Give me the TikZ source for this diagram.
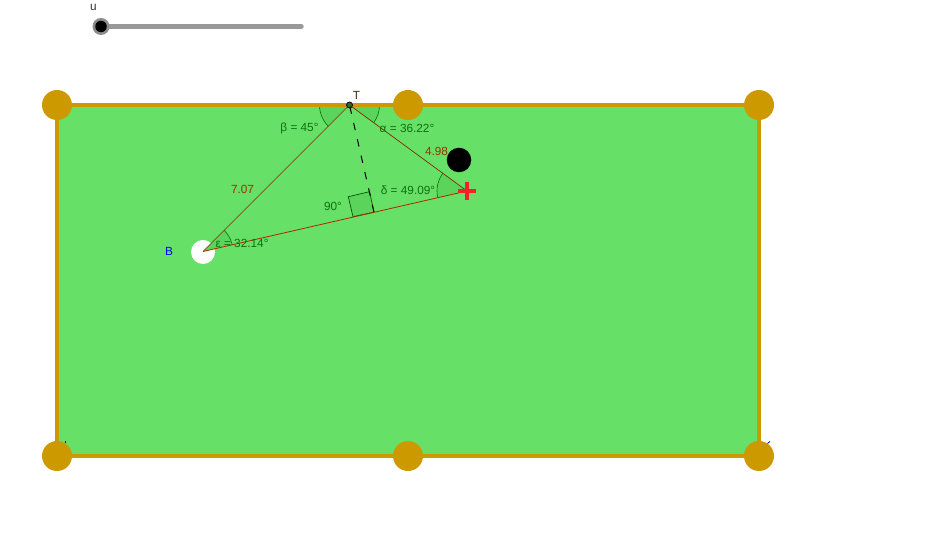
\documentclass[tikz,border=0pt]{standalone}
\usepackage{fontspec}
\setmainfont{Liberation Sans}
\usetikzlibrary{angles,calc}
\definecolor{gold}{HTML}{CC9900}
\definecolor{field}{HTML}{66E066}
\definecolor{wedge}{HTML}{5BD45B}
\definecolor{angtxt}{HTML}{0F700F}
\definecolor{seg}{HTML}{993300}
\definecolor{plusred}{HTML}{F8202A}
\tikzset{
  x=1pt,y=1pt,
  handle/.style={circle,fill=gold,minimum size=30pt,inner sep=0pt},
  lbl/.style={font=\fontsize{11.8}{12}\selectfont,inner sep=0pt},
  anglelbl/.style={lbl,text=angtxt},
  seglbl/.style={lbl,text=seg},
  side/.style={draw=seg!85!black,line width=0.7pt},
  ang/.style={draw=green!45!black,line width=0.6pt,fill=wedge,angle radius=30pt},
}
\begin{document}
\begin{tikzpicture}
\useasboundingbox (0,0) rectangle (935,554);
\fill[white] (0,0) rectangle (935,554);
\coordinate (T) at (349.5,449);
\coordinate (B) at (203,302.5);
\coordinate (P) at (467,363);
\coordinate (F) at (374,341.8);
\coordinate (TL) at (57,449);
\coordinate (TR) at (759,449);
\coordinate (BL) at (57,98);
\coordinate (BR) at (759,98);
\coordinate (Tleft) at (319,449);
\coordinate (Tright) at (380,449);
% field
\fill[field] (TL) rectangle (BR);
% slider
\coordinate (SA) at (101,527.5);
\coordinate (SB) at (301.5,527.5);
\draw[line width=4.4pt,color=black!40,line cap=round] (SA) -- (SB);
\node[circle,fill=black!45,minimum size=17pt,inner sep=0pt] (knobo) at (SA) {};
\node[circle,fill=black,minimum size=11.5pt,inner sep=0pt] (knobi) at (SA) {};
\node[lbl,text=black!80] (ulbl) at (93.5,546.5) {u};
% angle sectors
\pic[ang] {angle=Tleft--T--B};
\pic[ang] {angle=P--T--Tright};
\pic[ang] {angle=T--P--B};
% white ball
\node[circle,fill=white,minimum size=24pt,inner sep=0pt] (ball) at (203,302) {};
\pic[ang] {angle=P--B--T};
% right angle
\coordinate (Ra) at (353,337.3);
\coordinate (Rb) at (348.3,357.3);
\coordinate (Rc) at (369.6,362.3);
\draw[draw=black!65!green,fill=wedge,line width=0.7pt] (F) -- (Ra) -- (Rb) -- (Rc) -- cycle;
% border
\draw[draw=gold,line width=4pt] (TL) rectangle (BR);
% segments
\draw[side] (T) -- (B);
\draw[side] (T) -- (P);
\draw[draw=seg!70!red,line width=0.8pt] (B) -- (P);
\draw[black,line width=1pt,dash pattern=on 7.5pt off 9.3pt,dash phase=15.3pt] (T) -- (F);
% handles
\foreach \n/\c in {h1/TL,h3/TR,h4/BL,h6/BR}{\node[handle] (\n) at (\c) {};}
\node[handle] (h2) at (408,449) {};
\node[handle] (h5) at (408,98) {};
% hidden label fragments
\coordinate (fa) at (65.5,112.5);\coordinate (fb) at (65.5,110.5);
\draw[blue!70!black,line width=0.8pt] (fa) -- (fb);
\coordinate (fc) at (767.5,110.5);\coordinate (fd) at (770,112.5);
\draw[blue!70!black,line width=0.8pt] (fc) -- (fd);
% black ball
\node[circle,fill=black,minimum size=24.5pt,inner sep=0pt] (black) at (459,394) {};
% point T
\node[circle,draw=black,fill=black!55!field,line width=0.7pt,minimum size=6pt,inner sep=0pt] (Tpt) at (T) {};
% red plus
\coordinate (Pl) at (458,363);\coordinate (Pr) at (476,363);
\coordinate (Pt) at (467,372);\coordinate (Pb) at (467,354);
\draw[plusred,line width=3.6pt] (Pl) -- (Pr);
\draw[plusred,line width=3.6pt] (Pt) -- (Pb);
% labels
\node[lbl,text=black!70!gold] (Tl) at (356.5,459) {T};
\node[lbl,text=blue] (Bl) at (169,303) {B};
\node[seglbl] (s1) at (242.5,365) {7.07};
\node[seglbl] (s2) at (436.5,402.5) {4.98};
\node[anglelbl] (a1) at (299.5,426) {β = 45°};
\node[anglelbl] (a2) at (407,426) {α = 36.22°};
\node[anglelbl] (a3) at (408,364) {δ = 49.09°};
\node[anglelbl] (a4) at (333,348) {90°};
\node[anglelbl] (a5) at (242,311) {ε = 32.14°};
\end{tikzpicture}
\end{document}
